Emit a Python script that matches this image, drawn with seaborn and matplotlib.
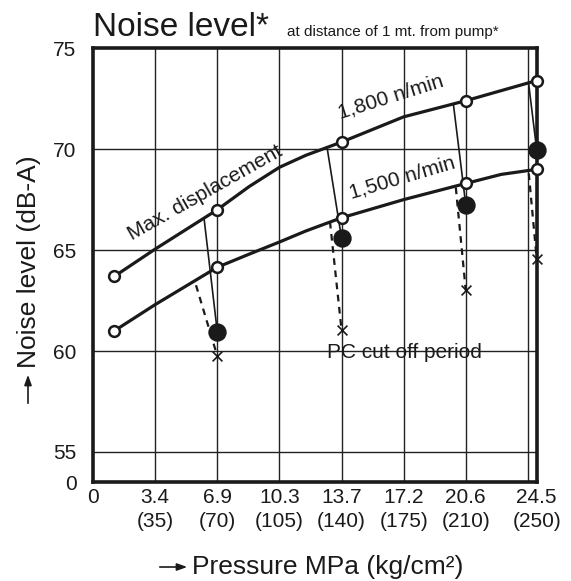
import matplotlib
matplotlib.use("Agg")
import matplotlib.pyplot as plt
import pandas as pd
import seaborn as sns

# pressure in kg/cm2, noise in dB-A
rpm1800_x = [12, 35, 70, 88, 105, 120, 140, 175, 210, 250]
rpm1800_y = [63.7, 65.05, 67.0, 68.15, 69.1, 69.7, 70.35, 71.6, 72.4, 73.4]
rpm1500_x = [12, 35, 70, 88, 105, 120, 140, 175, 210, 230, 250]
rpm1500_y = [61.0, 62.3, 64.15, 64.8, 65.4, 65.95, 66.6, 67.5, 68.3, 68.75, 69.0]

meas_x = [12, 70, 140, 210, 250]
meas1800 = [63.7, 67.0, 70.35, 72.4, 73.4]
meas1500 = [61.0, 64.15, 66.6, 68.3, 69.0]

cut_x = [70, 140, 210, 250]
cut_filled = [60.95, 65.6, 67.25, 69.95]
cut_cross = [59.75, 61.05, 63.0, 64.55]
solid_start_x = [62.5, 132, 203, 245.5]
solid_start_y = [66.6, 70.0, 72.25, 73.2]
dash_start_x = [58, 133.5, 204.4, 245.5]
dash_start_y = [63.26, 66.4, 68.1, 68.8]

grid_x = [35, 70, 105, 140, 175, 210, 245]
grid_y = [55, 60, 65, 70]
xtick_pos = [0, 35, 70, 105, 140, 175, 210, 250]
xtick_lab = ["0\n ", "3.4\n(35)", "6.9\n(70)", "10.3\n(105)", "13.7\n(140)",
             "17.2\n(175)", "20.6\n(210)", "24.5\n(250)"]
ytick_pos = [53.5, 55, 60, 65, 70, 75]
ytick_lab = ["0", "55", "60", "65", "70", "75"]

sns.set_theme(style="white")
plt.rcParams["font.family"] = ["Liberation Sans", "DejaVu Sans"]
ink = "#1a1a1a"

fig = plt.figure(figsize=(5.71, 5.81), dpi=100)
ax = fig.add_axes([0.163, 0.170, 0.777, 0.747])

for gx in grid_x:
    ax.axvline(gx, color="#222222", lw=1.0, zorder=1)
for gy in grid_y:
    ax.axhline(gy, color="#222222", lw=1.0, zorder=1)

c18 = pd.DataFrame({"p": rpm1800_x, "db": rpm1800_y})
c15 = pd.DataFrame({"p": rpm1500_x, "db": rpm1500_y})
for c in (c18, c15):
    sns.lineplot(data=c, x="p", y="db", color=ink, lw=2.3, sort=False,
                 estimator=None, ax=ax, zorder=3)

for i in range(len(cut_x)):
    ax.plot([solid_start_x[i], cut_x[i]], [solid_start_y[i], cut_filled[i]],
            color=ink, lw=1.2, zorder=2)
    ax.plot([dash_start_x[i], cut_x[i]], [dash_start_y[i], cut_cross[i]],
            color=ink, lw=1.6, ls=(0, (3, 2.5)), zorder=2)

for ys in (meas1800, meas1500):
    sns.scatterplot(x=meas_x, y=ys, s=60, marker="o", facecolor="white",
                    edgecolor=ink, linewidth=1.8, ax=ax, zorder=5, clip_on=False)
sns.scatterplot(x=cut_x, y=cut_filled, s=150, marker="o", color=ink,
                edgecolor=ink, ax=ax, zorder=5, clip_on=False)
sns.scatterplot(x=cut_x, y=cut_cross, s=50, marker="x", color=ink,
                linewidth=1.2, ax=ax, zorder=5, clip_on=False)

ax.set_xlim(0, 250)
ax.set_ylim(53.5, 75)
ax.set_xticks(xtick_pos, xtick_lab)
ax.set_yticks(ytick_pos, ytick_lab)
ax.tick_params(length=0, labelsize=15, colors=ink)
ax.tick_params(axis="x", pad=4)
ax.tick_params(axis="y", pad=12)
for lab in ax.get_xticklabels():
    lab.set_linespacing(1.35)
ax.set_xlabel("")
ax.set_ylabel("")
for sp in ax.spines.values():
    sp.set_linewidth(2.6)
    sp.set_color(ink)

txt = dict(color=ink, rotation_mode="anchor", ha="center", va="center")
ax.text(63, 67.85, "Max. displacement", fontsize=15, rotation=29.5, **txt)
ax.text(168, 72.6, "1,800 n/min", fontsize=15, rotation=17.5, **txt)
ax.text(174, 68.6, "1,500 n/min", fontsize=15, rotation=16.5, **txt)
ax.text(132, 59.95, "PC cut off period", fontsize=15, color=ink,
        ha="left", va="center")

fig.text(93 / 571, 1 - 36 / 581, "Noise level*", fontsize=24, color=ink,
         va="baseline")
fig.text(287 / 571, 1 - 36 / 581, "at distance of 1 mt. from pump*", fontsize=11,
         color=ink, va="baseline")

fig.text(29 / 571, 1 - 262 / 581, "Noise level (dB-A)", fontsize=19, rotation=90,
         ha="center", va="center", color=ink)
fig.text(192 / 571, 1 - 567 / 581, "Pressure MPa (kg/cm²)", fontsize=19,
         ha="left", va="center", color=ink)
arrow = dict(arrowstyle="-|>,head_length=0.5,head_width=0.18", color=ink, lw=1.2)
ax.annotate("", xy=(28 / 571, 1 - 372 / 581), xytext=(28 / 571, 1 - 406 / 581),
            xycoords="figure fraction", textcoords="figure fraction", arrowprops=arrow)
ax.annotate("", xy=(190 / 571, 1 - 567 / 581), xytext=(157 / 571, 1 - 567 / 581),
            xycoords="figure fraction", textcoords="figure fraction", arrowprops=arrow)

fig.savefig("out.png", dpi=100)
